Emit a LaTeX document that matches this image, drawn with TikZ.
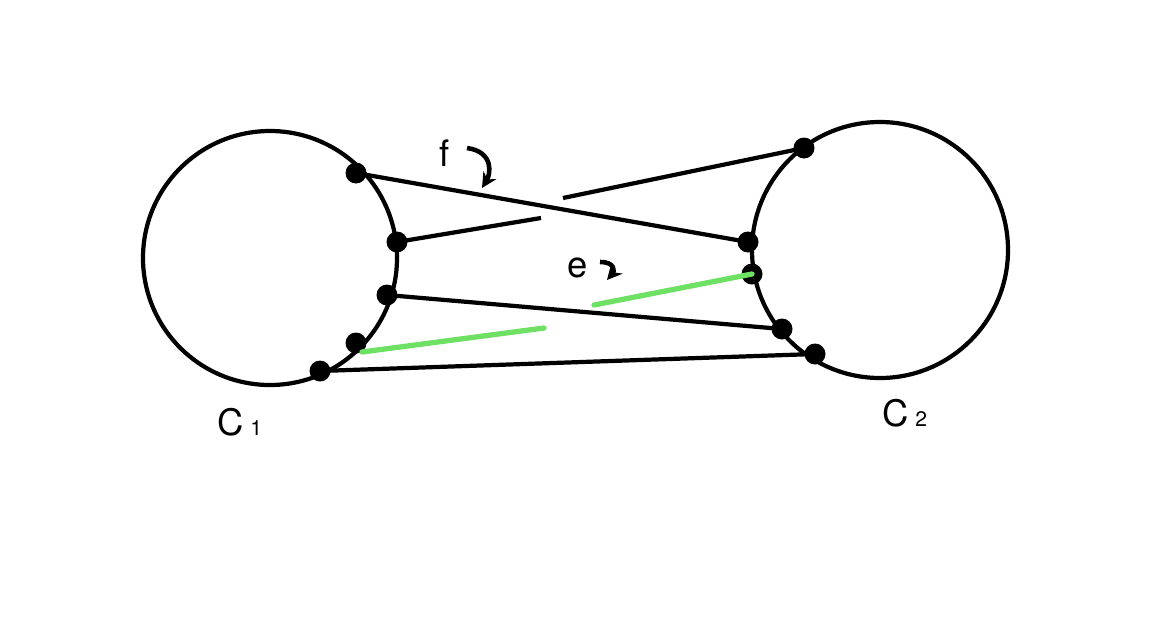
\documentclass[tikz,border=0pt]{standalone}
\usepackage{fontspec}
\setmainfont{TeX Gyre Heros}
\usetikzlibrary{arrows.meta}
\definecolor{lightgreen}{RGB}{110,225,100}
\tikzstyle{ring} = [line width=2.4pt, draw=black]
\tikzstyle{dot} = [circle, fill=black, inner sep=0pt, minimum size=0.42cm]
\tikzstyle{edge} = [line width=2.4pt, black]
\tikzstyle{greenedge} = [line width=3pt, lightgreen, line cap=round]
\tikzstyle{hook} = [line width=2.6pt, -{Stealth[length=3mm, width=3mm]}]
\begin{document}
\begin{tikzpicture}[x=0.02cm, y=-0.02cm]
	\useasboundingbox (0,0) rectangle (1174,616);
	\draw [ring] (270,258) circle [radius=127*0.02cm];
	\draw [ring] (880,250) circle [radius=128*0.02cm];
	% vertices on the left circle
	\node (A1) [dot] at (356,173) {};
	\node (A2) [dot] at (397,242) {};
	\node (A3) [dot] at (387,295) {};
	\node (A4) [dot] at (356,343) {};
	\node (A5) [dot] at (320,371) {};
	% vertices on the right circle
	\node (B1) [dot] at (804,148) {};
	\node (B2) [dot] at (748,242) {};
	\node (B3) [dot] at (752,274) {};
	\node (B4) [dot] at (782,329) {};
	\node (B5) [dot] at (815,354) {};
	\coordinate (GapL) at (541,218);
	\coordinate (GapR) at (563,198);
	\coordinate (GreenA) at (544,328);
	\coordinate (GreenB) at (594,305);
	\draw [edge] (A1.center) -- (B2.center);
	\draw [edge] (A2.center) -- (GapL);
	\draw [edge] (GapR) -- (B1.center);
	\draw [edge] (A3.center) -- (B4.center);
	\draw [edge] (A5.center) -- (B5.center);
	\draw [greenedge] (A4.center) ++(6,9) -- (GreenA);
	\draw [greenedge] (GreenB) -- (B3.center);
	% labels
	\node (LabelF) at (445,153) {\huge f};
	\node (LabelE) at (578,268) {\huge e};
	\draw [hook] (467,148) .. controls (495,152) and (490,175) .. (482,188);
	\draw [hook] (600,262) .. controls (616,262) and (614,272) .. (607,280);
	\node (LabelC1) at (240,422) {\huge C\,{\large 1}};
	\node (LabelC2) at (905,413) {\huge C\,{\large 2}};
\end{tikzpicture}
\end{document}
